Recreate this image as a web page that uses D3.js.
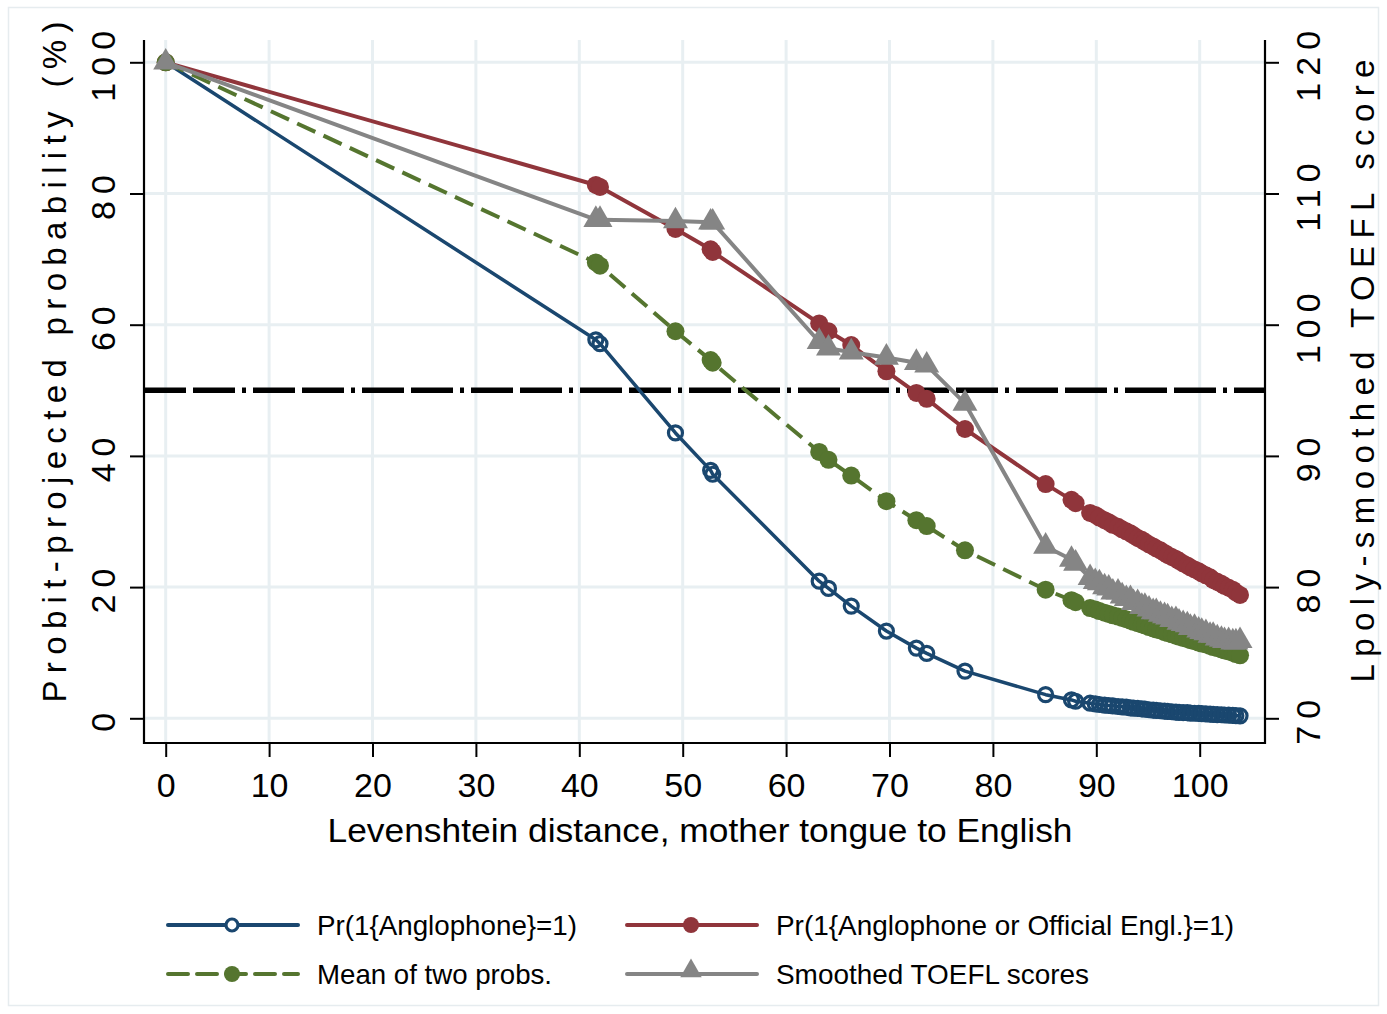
<!DOCTYPE html>
<html>
<head>
<meta charset="utf-8">
<script src="https://cdn.jsdelivr.net/npm/d3@7"></script>
<style>
  html, body { margin: 0; padding: 0; background: #fff; }
  svg { display: block; font-family: "Liberation Sans", Arial, sans-serif; }
</style>
</head>
<body>
<svg id="chart" width="1387" height="1014"></svg>
<script>
// Levenshtein distance (mother tongue to English) for each language point
const distance = [
  0, 41.6, 42.0, 49.3, 52.7, 52.9, 63.2, 64.1, 66.3, 69.7, 72.6, 73.6, 77.3, 85.1, 87.6, 88.0,
  89.4, 89.9, 90.3, 90.8, 91.2, 91.6, 92.1, 92.5, 92.9, 93.3, 93.6, 94.0, 94.4, 94.7, 95.1,
  95.5, 95.8, 96.2, 96.6, 96.9, 97.3, 97.7, 98.0, 98.4, 98.8, 99.1, 99.5, 99.9, 100.2,
  100.6, 101.0, 101.3, 101.7, 102.1, 102.4, 102.8, 103.2, 103.5, 103.9
];

// Pr(1{Anglophone}=1), percent
const probAnglo = [
  100, 57.7, 57.1, 43.5, 37.8, 37.2, 20.9, 19.8, 17.1, 13.3, 10.7, 9.9, 7.2, 3.6, 2.8, 2.6,
  2.3, 2.2, 2.1, 2.0, 1.95, 1.9, 1.8, 1.75, 1.7, 1.6, 1.55, 1.5, 1.45, 1.4, 1.3,
  1.25, 1.2, 1.15, 1.1, 1.05, 1.0, 0.95, 0.9, 0.88, 0.85, 0.8, 0.77, 0.74, 0.7,
  0.67, 0.64, 0.6, 0.57, 0.54, 0.5, 0.47, 0.44, 0.4, 0.37
];

// Pr(1{Anglophone or Official Engl.}=1), percent
const probOfficial = [
  100, 81.3, 81.0, 74.6, 71.5, 71.1, 60.2, 59.0, 56.9, 52.9, 49.6, 48.7, 44.1, 35.7, 33.3, 32.8,
  31.3, 31.0, 30.6, 30.2, 29.9, 29.5, 29.2, 28.8, 28.5, 28.2, 27.9, 27.5, 27.2, 26.9, 26.5,
  26.2, 25.9, 25.6, 25.2, 24.9, 24.6, 24.3, 24.0, 23.6, 23.3, 23.0, 22.7, 22.4, 22.1,
  21.8, 21.5, 21.1, 20.8, 20.5, 20.2, 19.9, 19.6, 19.2, 18.8
];

// Mean of the two probabilities, percent
const probMean = [
  100, 69.5, 69.0, 59.0, 54.6, 54.2, 40.6, 39.4, 37.0, 33.1, 30.2, 29.3, 25.6, 19.6, 18.0, 17.7,
  16.8, 16.6, 16.35, 16.1, 15.9, 15.7, 15.5, 15.3, 15.1, 14.9, 14.7, 14.5, 14.3, 14.15, 13.9,
  13.7, 13.55, 13.4, 13.15, 13.0, 12.8, 12.6, 12.45, 12.25, 12.1, 11.9, 11.75, 11.55, 11.4,
  11.25, 11.05, 10.85, 10.7, 10.5, 10.35, 10.2, 10.0, 9.8, 9.6
];

// Lpoly-smoothed TOEFL score (right axis)
const toefl = [
  120, 108.0, 108.0, 107.9, 107.8, 107.8, 98.7, 98.2, 97.9, 97.5, 97.1, 96.9, 94.0, 83.1, 82.1, 81.8,
  80.7, 80.4, 80.3, 80.0, 79.9, 79.6, 79.6, 79.3, 79.1, 79.1, 78.8, 78.8, 78.5, 78.5, 78.3,
  78.1, 78.1, 77.9, 77.8, 77.7, 77.5, 77.5, 77.3, 77.2, 77.1, 76.9, 76.9, 76.7, 76.6,
  76.5, 76.3, 76.3, 76.1, 76.0, 75.9, 75.9, 75.8, 75.8, 75.9
];

const xTicks = [0, 10, 20, 30, 40, 50, 60, 70, 80, 90, 100];
const yTicks = [0, 20, 40, 60, 80, 100];
const yRightTicks = [70, 80, 90, 100, 110, 120];
const threshold = 50;

const seriesNames = [
  "Pr(1{Anglophone}=1)",
  "Pr(1{Anglophone or Official Engl.}=1)",
  "Mean of two probs.",
  "Smoothed TOEFL scores"
];

const C = {
  blue: "#1a476f",
  red: "#90353b",
  green: "#55752f",
  gray: "#858585",
  grid: "#e8eff2"
};

const svg = d3.select("#chart");

// light outer frame of the graph region
svg.append("rect")
  .attr("x", 8.5).attr("y", 7.5).attr("width", 1370).attr("height", 998)
  .attr("fill", "none").attr("stroke", "#e6ecef").attr("stroke-width", 1.5);

const plot = { left: 144, right: 1265, top: 40, bottom: 743 };

const x = d3.scaleLinear().domain([0, 100]).range([165.7, 1199.7]);
const y = d3.scaleLinear().domain([0, 100]).range([718.3, 62.3]);
const yR = d3.scaleLinear().domain([70, 120]).range([718.3, 62.3]);

// gridlines
const grid = svg.append("g");
grid.selectAll("line.v").data(xTicks).join("line")
  .attr("x1", d => x(d)).attr("x2", d => x(d))
  .attr("y1", plot.top).attr("y2", plot.bottom)
  .attr("stroke", C.grid).attr("stroke-width", 3);
grid.selectAll("line.h").data(yTicks).join("line")
  .attr("x1", plot.left).attr("x2", plot.right)
  .attr("y1", d => y(d)).attr("y2", d => y(d))
  .attr("stroke", C.grid).attr("stroke-width", 3);

// 50% reference line
svg.append("line")
  .attr("x1", plot.left).attr("x2", plot.right)
  .attr("y1", y(threshold)).attr("y2", y(threshold))
  .attr("stroke", "#000").attr("stroke-width", 5.5)
  .attr("stroke-dasharray", "42,7,42,7,4,7");

// axes
function styleAxis(g) {
  g.select(".domain").remove();
  g.selectAll(".tick line").attr("stroke", "#000").attr("stroke-width", 2);
  g.selectAll(".tick text").attr("fill", "#000");
}

const gx = svg.append("g").attr("transform", `translate(0,${plot.bottom})`)
  .call(d3.axisBottom(x).tickValues(xTicks).tickSize(14).tickFormat(d3.format("d")));
styleAxis(gx);
gx.selectAll(".tick text").attr("y", 0).attr("dy", 0)
  .attr("transform", "translate(0,54)")
  .style("font-size", "34px").style("font-family", "Liberation Sans, Arial, sans-serif");

const gy = svg.append("g").attr("transform", `translate(${plot.left},0)`)
  .call(d3.axisLeft(y).tickValues(yTicks).tickSize(14).tickFormat(d3.format("d")));
styleAxis(gy);
gy.selectAll(".tick text").attr("x", 0).attr("dy", 0)
  .attr("text-anchor", "middle")
  .attr("transform", "translate(-29,0) rotate(-90)")
  .attr("letter-spacing", "7px")
  .style("font-size", "34px").style("font-family", "Liberation Sans, Arial, sans-serif");

const gyR = svg.append("g").attr("transform", `translate(${plot.right},0)`)
  .call(d3.axisRight(yR).tickValues(yRightTicks).tickSize(14).tickFormat(d3.format("d")));
styleAxis(gyR);
gyR.selectAll(".tick text").attr("x", 0).attr("dy", 0)
  .attr("text-anchor", "middle")
  .attr("transform", "translate(55,0) rotate(-90)")
  .attr("letter-spacing", "7px")
  .style("font-size", "34px").style("font-family", "Liberation Sans, Arial, sans-serif");

// axis lines
svg.append("path")
  .attr("d", `M${plot.left},${plot.top}V${plot.bottom}H${plot.right}V${plot.top}`)
  .attr("fill", "none").attr("stroke", "#000").attr("stroke-width", 2.2);

// axis titles
svg.append("text")
  .attr("x", 700).attr("y", 842).attr("text-anchor", "middle")
  .attr("textLength", 745).attr("lengthAdjust", "spacingAndGlyphs")
  .style("font-size", "33px").text("Levenshtein distance, mother tongue to English");

svg.append("text")
  .attr("transform", "translate(66,362) rotate(-90)").attr("text-anchor", "middle")
  .attr("textLength", 681).attr("lengthAdjust", "spacing")
  .style("font-size", "33px").text("Probit-projected probability (%)");

svg.append("text")
  .attr("transform", "translate(1374,371) rotate(-90)").attr("text-anchor", "middle")
  .attr("textLength", 623).attr("lengthAdjust", "spacing")
  .style("font-size", "33px").text("Lpoly-smoothed TOEFL score");

// series
const rows = distance.map((d, i) => ({
  d, a: probAnglo[i], o: probOfficial[i], m: probMean[i], t: toefl[i]
}));

const tri = d3.symbol().type(d3.symbolTriangle).size(270);

function drawSeries(key, yScale, color, width, dash, marker) {
  const g = svg.append("g");
  const line = d3.line().x(r => x(r.d)).y(r => yScale(r[key]));
  g.append("path").datum(rows).attr("d", line)
    .attr("fill", "none").attr("stroke", color).attr("stroke-width", width)
    .attr("stroke-linejoin", "round")
    .attr("stroke-dasharray", dash || null);
  if (marker === "hollow") {
    g.selectAll("circle").data(rows).join("circle")
      .attr("cx", r => x(r.d)).attr("cy", r => yScale(r[key])).attr("r", 7)
      .attr("fill", "none").attr("stroke", color).attr("stroke-width", 3.2);
  } else if (marker === "dot") {
    g.selectAll("circle").data(rows).join("circle")
      .attr("cx", r => x(r.d)).attr("cy", r => yScale(r[key])).attr("r", 9)
      .attr("fill", color);
  } else {
    g.selectAll("path.m").data(rows).join("path").attr("class", "m")
      .attr("transform", r => `translate(${x(r.d)},${yScale(r[key])})`)
      .attr("d", tri).attr("fill", color);
  }
}

drawSeries("a", y, C.blue, 3.5, null, "hollow");
drawSeries("o", y, C.red, 4, null, "dot");
drawSeries("m", y, C.green, 4, "20,9", "dot");
drawSeries("t", yR, C.gray, 4, null, "tri");

// legend
const legendItems = [
  { name: seriesNames[0], color: C.blue, dash: null, marker: "hollow", lx: 168, ty: 935, tl: 260 },
  { name: seriesNames[1], color: C.red, dash: null, marker: "dot", lx: 627, ty: 935, tl: 458 },
  { name: seriesNames[2], color: C.green, dash: "20,9", marker: "dot", lx: 168, ty: 984, tl: 235 },
  { name: seriesNames[3], color: C.gray, dash: null, marker: "tri", lx: 627, ty: 984, tl: 313 }
];
const lg = svg.append("g");
legendItems.forEach(it => {
  const cy = it.ty - 10;
  lg.append("line").attr("x1", it.lx).attr("x2", it.lx + 130)
    .attr("y1", cy).attr("y2", cy)
    .attr("stroke", it.color).attr("stroke-width", 4)
    .attr("stroke-linecap", "round")
    .attr("stroke-dasharray", it.dash || null);
  const mx = it.lx + 64;
  if (it.marker === "hollow") {
    lg.append("circle").attr("cx", mx).attr("cy", cy).attr("r", 6)
      .attr("fill", "#fff").attr("stroke", it.color).attr("stroke-width", 3.2);
  } else if (it.marker === "dot") {
    lg.append("circle").attr("cx", mx).attr("cy", cy).attr("r", 8).attr("fill", it.color);
  } else {
    lg.append("path").attr("transform", `translate(${mx},${cy - 3})`)
      .attr("d", d3.symbol().type(d3.symbolTriangle).size(200)()).attr("fill", it.color);
  }
  lg.append("text").attr("x", it.lx + 149).attr("y", it.ty)
    .attr("textLength", it.tl).attr("lengthAdjust", "spacingAndGlyphs")
    .style("font-size", "28px").text(it.name);
});
</script>
</body>
</html>
